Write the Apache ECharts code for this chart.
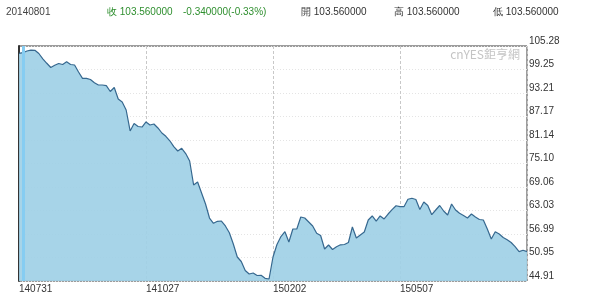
<!DOCTYPE html>
<html>
<head>
<meta charset="utf-8">
<script src="https://cdn.jsdelivr.net/npm/echarts@6/dist/echarts.min.js"></script>
<style>
html,body{margin:0;padding:0;background:#fff;}
#c{width:600px;height:304px;}
</style>
</head>
<body>
<div id="c"></div>
<script>
// x tick labels (one every 32 samples)
var xTicks = ['140731', '141027', '150202', '150507'];
var xStep = 32;
// y tick labels, top to bottom
var yTicks = ['105.28', '99.25', '93.21', '87.17', '81.14', '75.10', '69.06', '63.03', '56.99', '50.95', '44.91'];
var yMin = 44.91, yMax = 105.28;
// series values (sampled along the curve)
var values = [
  103.40, 103.56, 104.00, 104.20, 104.18, 103.35, 101.99, 100.84, 99.76, 100.32,
  100.79, 100.53, 101.25, 100.53, 100.40, 98.60, 96.98, 96.98, 96.68, 95.85,
  95.26, 95.26, 95.10, 93.59, 94.62, 91.67, 90.90, 88.84, 83.45, 85.37,
  84.60, 84.47, 85.76, 84.99, 85.24, 84.22, 82.93, 82.08, 80.93, 79.41,
  78.31, 79.00, 77.66, 75.74, 69.57, 70.34, 67.52, 64.69, 61.09, 59.73,
  60.25, 60.32, 59.04, 57.32, 54.42, 51.08, 49.92, 47.61, 46.71, 46.97,
  46.32, 46.37, 45.60, 45.42, 51.08, 54.29, 56.34, 57.58, 54.93, 58.27,
  58.27, 61.35, 61.09, 60.07, 59.04, 57.16, 56.60, 53.13, 54.16, 53.00,
  53.72, 54.21, 54.29, 54.80, 58.78, 55.96, 56.73, 57.50, 60.58, 61.61,
  60.32, 61.61, 60.84, 62.12, 63.23, 64.25, 64.00, 64.00, 65.90, 66.16,
  65.85, 63.28, 65.21, 64.31, 61.94, 63.15, 64.31, 62.89, 61.87, 64.69,
  63.15, 62.30, 61.74, 61.09, 62.12, 61.35, 60.71, 60.58, 58.27, 55.70,
  57.55, 56.98, 56.09, 55.49, 54.80, 53.72, 52.44, 52.80, 52.44
];
var hoverIndex = 1;
var header = {
  date: '20140801', close: '103.560000', change: '-0.340000(-0.33%)',
  open: '103.560000', high: '103.560000', low: '103.560000'
};

var chart = echarts.init(document.getElementById('c'), null, {renderer: 'canvas'});
var fontFam = '"Liberation Sans", Arial, sans-serif';
var nMax = values.length - 1;

var option = {
  animation: false,
  backgroundColor: '#fff',
  grid: {left: 19, right: 73, top: 46, bottom: 23, show: true, borderColor: '#3a3a3a', borderWidth: 1, backgroundColor: 'transparent'},
  xAxis: {
    type: 'value', min: 0, max: nMax, interval: xStep,
    axisLine: {show: false}, axisTick: {show: false},
    axisLabel: {
      show: true, align: 'left', margin: 3, color: '#333', fontSize: 10, fontFamily: fontFam,
      formatter: function (v) { var k = Math.round(v / xStep); return (k * xStep === v && xTicks[k]) ? xTicks[k] : ''; }
    },
    splitLine: {show: true, lineStyle: {color: '#c8c8c8', type: [3, 2], width: 1}}
  },
  yAxis: [
    {
      type: 'value', min: yMin, max: yMax, position: 'left',
      axisLine: {show: true, lineStyle: {color: '#333', width: 2}},
      axisTick: {show: false}, axisLabel: {show: false}, splitLine: {show: false}
    },
    {
      type: 'value', min: 0, max: yTicks.length - 1, interval: 1, position: 'right',
      axisLine: {show: false}, axisTick: {show: false},
      axisLabel: {
        show: true, margin: 2, color: '#333', fontSize: 10, fontFamily: fontFam,
        verticalAlign: 'bottom', lineHeight: 10,
        formatter: function (v) { return yTicks[yTicks.length - 1 - v] || ''; }
      },
      splitLine: {show: true, lineStyle: {color: '#e4e4e4', type: [1, 2], width: 1}}
    }
  ],
  series: [{
    type: 'line',
    yAxisIndex: 0,
    data: values.map(function (v, i) { return [i, v]; }),
    showSymbol: false,
    lineStyle: {color: '#36688f', width: 1.2},
    areaStyle: {color: 'rgba(160,208,230,0.92)', opacity: 1, origin: 'start'},
    markLine: {
      silent: true, symbol: 'none', label: {show: false},
      lineStyle: {color: '#86cdf2', width: 3, type: 'solid', opacity: 1},
      data: [{xAxis: hoverIndex}]
    },
    z: 2
  }],
  graphic: [
    {type: 'text', left: 6, top: 7, style: {text: header.date, fill: '#444', font: '10px ' + fontFam}},
    {type: 'text', left: 107, top: 7, style: {text: '收 ' + header.close, fill: '#2f8f2f', font: '10px ' + fontFam}},
    {type: 'text', left: 183, top: 7, style: {text: header.change, fill: '#2f8f2f', font: '10px ' + fontFam}},
    {type: 'text', left: 301, top: 7, style: {text: '開 ' + header.open, fill: '#333', font: '10px ' + fontFam}},
    {type: 'text', left: 394, top: 7, style: {text: '高 ' + header.high, fill: '#333', font: '10px ' + fontFam}},
    {type: 'text', left: 493, top: 7, style: {text: '低 ' + header.low, fill: '#333', font: '10px ' + fontFam}},
    {type: 'text', right: 80, top: 48, z: 10, style: {text: 'cnYES鉅亨網', fill: '#c4c4c4', font: '12px "Noto Sans CJK TC", ' + fontFam}}
  ]
};
chart.setOption(option);
</script>
</body>
</html>
